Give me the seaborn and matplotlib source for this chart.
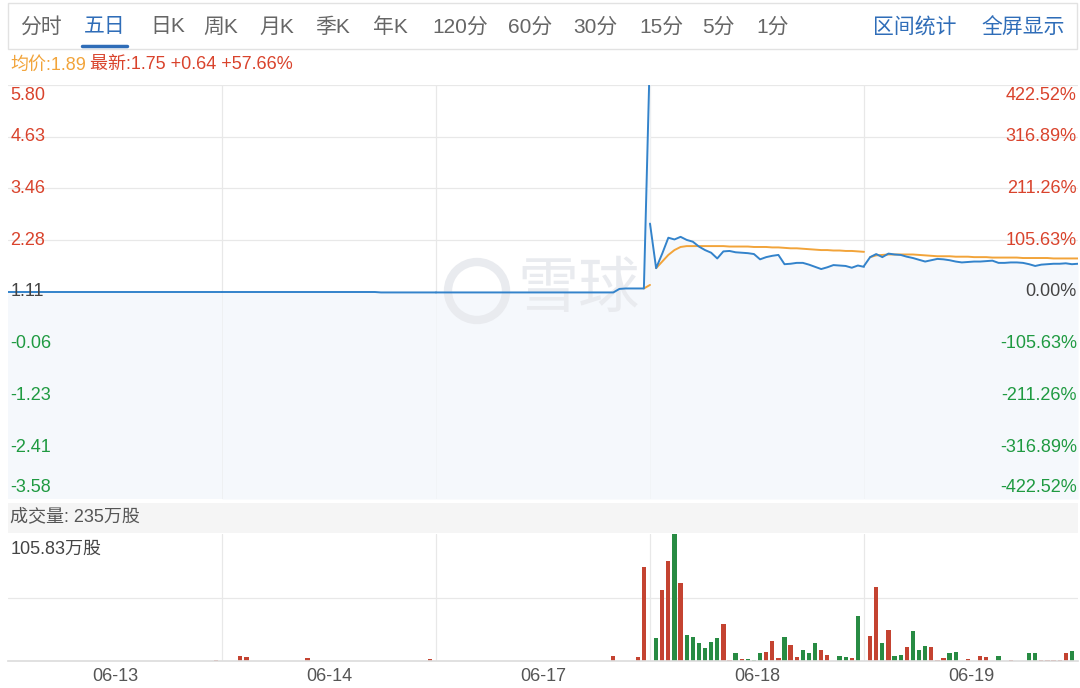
import numpy as np
import pandas as pd
import matplotlib
matplotlib.use('Agg')
import matplotlib.pyplot as plt
import matplotlib.transforms as mtransforms
from matplotlib.patches import Rectangle, Ellipse
from matplotlib.lines import Line2D
import seaborn as sns

# ---------------- data ----------------
DAYS = ['06-13', '06-14', '06-17', '06-18', '06-19']
PREV_CLOSE = 1.11
AVG_PRICE, LAST_PRICE, CHANGE, CHANGE_PCT = 1.89, 1.75, 0.64, 57.66
TOTAL_VOL = '235万股'
VOL_MAX = 105.83

PRICE_TICKS = [5.80, 4.63, 3.46, 2.28, 1.11, -0.06, -1.23, -2.41, -3.58]
PCT_LABELS = ['422.52%', '316.89%', '211.26%', '105.63%', '0.00%',
              '-105.63%', '-211.26%', '-316.89%', '-422.52%']

TABS = ['分时', '五日', '日K', '周K', '月K', '季K', '年K', '120分', '60分', '30分', '15分', '5分', '1分']
TOOLS = ['区间统计', '全屏显示']

# price per day, 36 points (open + 35 intervals)
PRICE_0613 = [1.11] * 36
PRICE_0614 = [1.11] * 26 + [1.10] * 10
PRICE_0617 = [1.10] * 30 + [1.18, 1.19, 1.19, 1.19, 1.19, 6.60]
PRICE_0618 = [2.66, 1.65, 1.98, 2.34, 2.30, 2.36, 2.29, 2.25, 2.14, 2.06, 2.00, 1.87,
              2.03, 2.04, 2.01, 2.00, 1.99, 1.97, 1.85, 1.90, 1.93, 1.95, 1.74, 1.75,
              1.77, 1.77, 1.73, 1.68, 1.63, 1.67, 1.72, 1.71, 1.70, 1.66, 1.71, 1.68]
PRICE_0619 = [1.70, 1.90, 1.97, 1.90, 1.98, 1.96, 1.95, 1.91, 1.88, 1.84, 1.80, 1.83,
              1.86, 1.85, 1.83, 1.80, 1.78, 1.79, 1.80, 1.80, 1.81, 1.82, 1.77, 1.77,
              1.78, 1.78, 1.77, 1.74, 1.70, 1.73, 1.74, 1.75, 1.75, 1.76, 1.74, 1.75]

# average price line (nan = not shown)
AVG_0613 = [np.nan] * 36
AVG_0614 = [np.nan] * 36
AVG_0617 = [np.nan] * 34 + [1.19, 1.27]
AVG_0618 = [np.nan, 1.65, 1.80, 1.95, 2.06, 2.13, 2.15, 2.15, 2.15, 2.15, 2.15, 2.15,
            2.15, 2.14, 2.14, 2.14, 2.14, 2.13, 2.13, 2.13, 2.12, 2.12, 2.11, 2.10,
            2.10, 2.09, 2.08, 2.07, 2.06, 2.06, 2.05, 2.05, 2.04, 2.04, 2.03, 2.02]
AVG_0619 = [np.nan, 1.90, 1.94, 1.95, 1.96, 1.96, 1.96, 1.96, 1.96, 1.95, 1.94, 1.93,
            1.92, 1.92, 1.92, 1.91, 1.91, 1.91, 1.90, 1.90, 1.90, 1.89, 1.89, 1.89,
            1.89, 1.89, 1.88, 1.88, 1.88, 1.88, 1.88, 1.87, 1.87, 1.87, 1.87, 1.87]

# volume (万股) per day, 35 intervals; r = up, g = down
VOL_0613 = [0, 0, 0, 0, 0, 0, 0, 0, 0, 0, 0, 0, 0, 0, 0, 0, 0, 0,
            0, 0, 0, 0, 0, 0, 0, 0, 0, 0, 0, 0, 0, 0, 0, 0.8, 0]
VOL_0614 = [0, 0, 4.5, 3.1, 0, 0, 0, 0, 0, 0, 0, 0, 0, 2.5, 0, 0, 0, 0,
            0, 0, 0, 0, 0, 0, 0, 0, 0, 0, 0, 0, 0, 0, 0, 2.0, 0]
VOL_0617 = [0, 0, 0, 0, 0, 0, 0, 0, 0, 0, 0, 0, 0, 0, 0, 0, 0, 0,
            0, 0, 0, 0, 0, 0, 0, 0, 0, 0, 3.9, 0, 0, 0, 3.1, 78.7, 0]
VOL_0618 = [19.3, 59.1, 83.4, 105.8, 64.7, 21.3, 20.4, 15.1, 10.6, 15.7, 19.0, 31.1,
            0.8, 6.7, 1.7, 1.7, 1.1, 6.7, 7.3, 16.5, 2.5, 19.9, 13.7, 3.6,
            9.2, 6.7, 14.8, 9.2, 5.0, 0, 3.9, 3.4, 2.5, 37.2, 0.3]
VOL_0619 = [20.7, 61.3, 15.1, 26.0, 4.2, 4.8, 11.5, 24.6, 9.2, 12.3, 11.5, 1.1,
            2.5, 7.0, 7.3, 0, 1.7, 0.3, 3.9, 3.4, 0, 3.9, 0, 0.8,
            0, 0.3, 6.4, 6.4, 0.5, 0.5, 0.8, 0.5, 6.7, 8.7, 0]
DIR_0613 = 'r' * 35
DIR_0614 = 'r' * 35
DIR_0617 = 'r' * 35
DIR_0618 = 'grrgrgggggg' + 'rrgrgggrrrgrr' + 'gggrrrggrgr'
DIR_0619 = 'rrgrggrgggr' + 'rrggrrrrrrg' + 'rrrrggrrrrrgr'

PRICES = [PRICE_0613, PRICE_0614, PRICE_0617, PRICE_0618, PRICE_0619]
AVGS = [AVG_0613, AVG_0614, AVG_0617, AVG_0618, AVG_0619]
VOLS = [VOL_0613, VOL_0614, VOL_0617, VOL_0618, VOL_0619]
DIRS = [DIR_0613, DIR_0614, DIR_0617, DIR_0618, DIR_0619]
SLOTS = 35

rows = []
for d, (p, a) in enumerate(zip(PRICES, AVGS)):
    for i in range(len(p)):
        rows.append({'day': d, 't': d * SLOTS + i, 'price': p[i], 'avg': a[i]})
line_df = pd.DataFrame(rows)

vrows = []
for d, (v, s) in enumerate(zip(VOLS, DIRS)):
    for k in range(len(v)):
        vrows.append({'t': d * SLOTS + k + 1, 'vol': v[k], 'dir': s[k]})
vol_df = pd.DataFrame(vrows)

# ---------------- style ----------------
BLUE = '#3383cb'
ORANGE = '#f2a43a'
RED = '#dc3119'
GREEN = '#179c3c'
LBL_RED = '#d9432c'
LBL_GREEN = '#1f9a41'
GRAY_TXT = '#555555'
UI_BLUE = '#2f6db8'
GRID = '#e8e8e8'

sns.set_theme(style='white')
plt.rcParams['font.family'] = ['Liberation Sans', 'Noto Sans CJK SC']

W, H = 1080, 688
def fx(x):
    return x / W
def fy(y):
    return 1 - y / H

fig = plt.figure(figsize=(10.8, 6.88), dpi=100)

# toolbar
fig.add_artist(Rectangle((fx(8), fy(49)), 1069 / W, 46 / H, transform=fig.transFigure,
                         facecolor='white', edgecolor='#e2e2e2', lw=1))
tab_x = [41, 105, 168, 221, 277, 333, 390, 460, 530, 595, 661, 718, 773]
for name, cx in zip(TABS, tab_x):
    col = UI_BLUE if name == '五日' else '#666666'
    fig.text(fx(cx), fy(27), name, ha='center', va='center', fontsize=15, color=col)
fig.add_artist(Line2D([fx(82), fx(127)], [fy(46), fy(46)], color=UI_BLUE, lw=2.5))
for name, cx in zip(TOOLS, [915, 1023]):
    fig.text(fx(cx), fy(27), name, ha='center', va='center', fontsize=15, color=UI_BLUE)

# header line
t1 = fig.text(fx(10), fy(65), f'均价:{AVG_PRICE:.2f}', color=ORANGE, fontsize=13, va='center')
fig.canvas.draw()
bb = t1.get_window_extent()
fig.text((bb.x1 + 4) / W, fy(65),
         f'最新:{LAST_PRICE:.2f} +{CHANGE:.2f} +{CHANGE_PCT:.2f}%',
         color=LBL_RED, fontsize=13, va='center')

# ---------------- price panel ----------------
ax1 = fig.add_axes([fx(8), fy(499), 1070 / W, 414 / H])
ax1.set_xlim(0, SLOTS * len(DAYS))
ax1.set_ylim(PRICE_TICKS[-1], PRICE_TICKS[0])

for d in range(len(DAYS)):
    sub = line_df[line_df['day'] == d]
    ax1.fill_between(sub['t'], sub['price'], PRICE_TICKS[-1], color='#f5f8fc', lw=0, zorder=1)

# watermark
ax1.add_patch(Ellipse((fx(477), fy(291)), 58 / W, 58 / H, transform=fig.transFigure,
                      facecolor='none', edgecolor='#e9ebef', lw=6, zorder=1.5))
ax1.text(fx(578), fy(291), '雪球', transform=fig.transFigure, fontsize=44,
         color='#e9ebef', ha='center', va='center', zorder=1.5)

avg_df = line_df.dropna(subset=['avg'])
sns.lineplot(data=avg_df, x='t', y='avg', units='day', estimator=None,
             color=ORANGE, lw=1.4, ax=ax1, zorder=2)
sns.lineplot(data=line_df, x='t', y='price', units='day', estimator=None,
             color=BLUE, lw=1.4, ax=ax1, zorder=3)

ax1.set_yticks(PRICE_TICKS)
ax1.set_xticks([SLOTS * d for d in range(1, len(DAYS))])
ax1.grid(True, color=GRID, lw=0.9)
ax1.tick_params(labelleft=False, labelbottom=False, length=0)
ax1.set_xlabel('')
ax1.set_ylabel('')
for s in ax1.spines.values():
    s.set_visible(False)

trans = mtransforms.blended_transform_factory(ax1.transAxes, ax1.transData)
n = len(PRICE_TICKS)
for j, (v, pct) in enumerate(zip(PRICE_TICKS, PCT_LABELS)):
    if v > PREV_CLOSE:
        col = LBL_RED
    elif v < PREV_CLOSE:
        col = LBL_GREEN
    else:
        col = '#444444'
    if j == 0:
        va, dy = 'top', -2
    elif j == n - 1:
        va, dy = 'bottom', 3
    else:
        va, dy = 'center', 0
    off = mtransforms.offset_copy(trans, fig=fig, x=0, y=dy, units='dots')
    ax1.text(0.002, v, f'{v:.2f}', transform=off, ha='left', va=va,
             fontsize=13, color=col, zorder=5)
    ax1.text(0.999, v, pct, transform=off, ha='right', va=va,
             fontsize=13, color=col, zorder=5)

# ---------------- volume panel ----------------
fig.add_artist(Rectangle((fx(8), fy(533)), 1070 / W, 30 / H, transform=fig.transFigure,
                         facecolor='#f5f5f5', edgecolor='none'))
fig.text(fx(10), fy(517), f'成交量: {TOTAL_VOL}', fontsize=13, color=GRAY_TXT, va='center')

ax2 = fig.add_axes([fx(8), fy(661), 1070 / W, 127 / H])
sns.barplot(data=vol_df, x='t', y='vol', hue='dir', palette={'r': RED, 'g': GREEN},
            native_scale=True, dodge=False, width=0.7, errorbar=None, legend=False,
            linewidth=0, ax=ax2)
ax2.set_xlim(0, SLOTS * len(DAYS))
ax2.set_ylim(0, VOL_MAX)
ax2.set_yticks([VOL_MAX / 2])
ax2.set_xticks([SLOTS * d for d in range(1, len(DAYS))])
ax2.grid(True, color=GRID, lw=0.9)
ax2.set_axisbelow(True)
ax2.tick_params(labelleft=False, labelbottom=False, length=0)
ax2.set_xlabel('')
ax2.set_ylabel('')
for k, s in ax2.spines.items():
    s.set_visible(k == 'bottom')
ax2.spines['bottom'].set_color('#dddddd')

ax2.text(0.002, 0.88, f'{VOL_MAX:.2f}万股', transform=ax2.transAxes, ha='left', va='center',
         fontsize=13, color='#444444')
for d, lab in enumerate(DAYS):
    ax2.text(SLOTS * d + SLOTS / 2, -0.12, lab,
             transform=mtransforms.blended_transform_factory(ax2.transData, ax2.transAxes),
             ha='center', va='center', fontsize=13, color=GRAY_TXT)

fig.savefig('out.png', dpi=100)
